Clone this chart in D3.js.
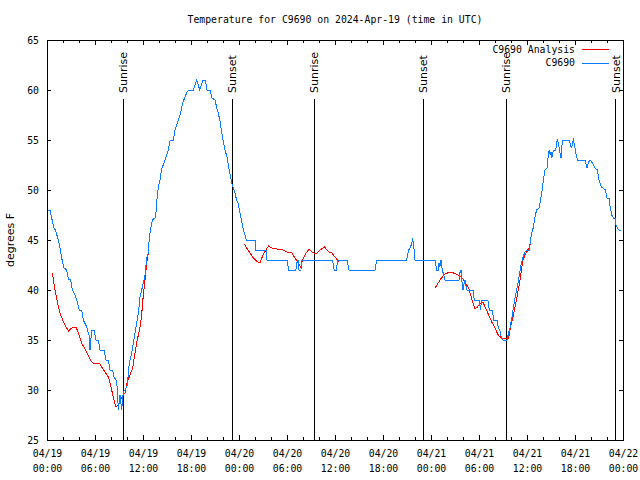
<!DOCTYPE html>
<html>
<head>
<meta charset="utf-8">
<script src="https://cdn.jsdelivr.net/npm/d3@7"></script>
<style>
html,body{margin:0;padding:0;background:#fff;}
svg{display:block;}
</style>
</head>
<body>
<script>
// ---- data (hours since 2024-04-19 00:00 UTC) ----
const obsHours = [0.17,0.375,0.58,0.875,1.05,1.42,1.625,1.83,2.125,2.46,2.67,2.96,3.17,3.5,3.71,4.04,4.33,4.54,4.96,5.25,5.375,5.58,5.875,6.125,6.42,6.625,7.125,7.375,7.67,7.875,8.21,8.375,8.625,8.79,8.92,9.125,9.33,9.54,9.75,10.04,10.29,10.58,10.79,11.0,11.21,11.42,11.625,11.83,12.04,12.25,12.46,12.67,12.79,13.0,13.17,13.5,13.625,13.79,13.92,14.125,14.3,14.75,15.16,15.4,15.8,16.0,16.4,16.7,16.8,17.0,17.5,17.7,18.3,18.5,18.7,18.9,19.1,19.3,19.5,19.75,19.9,20.0,20.4,20.6,21.0,21.2,21.4,21.6,21.8,22.0,22.25,22.5,22.7,22.9,23.1,23.3,23.5,23.7,23.9,24.1,24.3,24.5,24.75,24.9,26.0,26.1,27.4,27.5,30.0,30.2,31.1,31.3,31.4,31.5,31.75,31.8,35.7,35.9,36.2,36.3,37.5,37.75,41.0,41.2,44.96,45.2,45.4,45.6,45.7,45.9,46.0,48.5,48.7,48.9,49.0,49.1,49.25,49.4,49.6,49.75,51.5,51.6,51.75,51.8,51.9,52.0,52.1,52.25,52.4,52.5,53.3,53.4,54.0,54.2,54.3,55.1,55.3,55.7,55.8,56.3,56.4,56.6,56.8,57.0,57.5,57.7,57.9,58.1,58.3,58.5,58.7,58.9,59.1,59.3,59.5,59.75,59.96,60.3,60.4,60.6,60.8,61.0,61.2,61.5,61.7,61.9,62.0,62.25,62.5,62.7,62.8,62.9,63.0,63.1,63.3,63.6,63.7,63.8,64.0,64.1,64.25,64.4,64.5,65.3,65.5,65.6,65.7,65.8,66.0,66.1,66.3,67.25,67.4,67.5,67.7,67.9,68.1,68.3,68.5,68.8,69.0,69.3,69.5,69.8,70.0,70.25,70.4,70.6,70.8,71.0,71.1,71.3,71.5,71.75];
const obsTemps = [48,48,47.2,46.2,46,45,44.2,43.2,42.2,42,41.1,41,40,39.5,39,38,38,37,36.3,35.5,34,36,36,35,35,34,34,33,33,32,32,31.3,31,30.2,28,29.5,28,29.8,30,30.5,32.7,33.7,34.7,35.7,36.7,37.7,39.3,40,40.7,41.5,43.2,43.7,45.3,46.3,47,47.2,47.8,49.5,50.3,51,52,53,54,55,55,56,57,57.7,58.1,58.8,59.8,60,60,60.5,61,60.5,60,60.5,61,61,60.5,60,60,59.2,59,58.3,57.7,57,56,55,54,53.3,52.3,51.5,50.7,50.2,49.7,49,48.7,47.8,47,46.2,45.5,45,45,44,44,43,43,42,42,43,43,42,42,43,43,42,42,43,43,42,42,43,43,44,44.2,44.7,45.2,44,43,43,42,42,42.7,42.3,43,42,41.5,41,41,41.7,42,41.3,40.7,40,40.5,41,40.3,40,40,39,39,38,39,39,38,38,37,37,36.2,36,35.2,35,35,35.7,36.3,37.2,38.2,39.2,40,40.8,41.8,42.7,43.3,43.8,44,44,44.8,45.7,46.3,47.3,48,48.2,49,50,50.7,52,52.2,53.7,54,53.5,53.8,53.2,54,54,54.7,55.1,54.3,53.8,53.2,54.7,55,55,54.3,54.2,54.8,55,54.2,53.7,53,53,52.5,52.2,52.8,53,52.8,52.5,52.2,52,51,50.3,50.2,50,49.2,49.2,48.3,47.5,47.2,47.2,46.5,46.2,46,46];

// analysis series; null marks a gap
const anaHours = [0.67,1.0,1.42,1.71,2.125,2.67,3.08,3.625,3.92,4.33,4.96,5.58,5.79,6.625,6.83,7.25,7.67,7.875,8.08,8.375,8.625,8.92,9.125,9.46,9.75,10.04,10.375,10.71,11.0,11.21,11.625,11.83,12.04,12.29,12.46,12.67,
  null,
  24.66,24.96,25.375,25.8,26.2,26.6,27.0,27.5,27.7,28.1,28.7,29.5,30.0,30.6,31.0,31.4,31.7,32.0,32.4,32.75,33.1,33.6,34.1,34.7,35.2,35.6,36.0,36.3,36.5,
  null,
  48.5,48.9,49.3,49.75,50.4,50.8,51.4,51.8,52.25,52.7,52.96,53.2,53.5,53.8,54.1,54.5,54.75,55.1,55.6,56.0,56.4,56.8,57.25,57.7,57.9,58.3,58.7,59.1,59.3,59.5,59.75,59.96,60.3,60.5];
const anaTemps = [41.7,40,38.3,37.5,36.7,35.9,36.2,36.3,35.7,34.7,33.8,32.8,32.7,32.6,32.3,31.8,31.3,30.7,30,29,28.3,28.5,29,29.4,29.7,30.8,31.5,32.2,33.7,34.7,36.3,37.5,39.5,41.3,42.7,43.7,
  null,
  44.6,44.2,43.7,43.2,42.9,42.7,43.5,44.2,44.4,44.2,44.1,44,43.8,43.7,43.2,42.7,42.3,43.1,43.7,44.1,43.8,43.6,44,44.3,43.8,43.7,43.3,43,42.8,
  null,
  40.2,40.7,41.2,41.6,41.8,41.7,41.5,41.3,40.8,40.2,39.5,38.8,38.1,38.3,38.6,38.8,38.3,37.7,36.8,36.2,35.5,35.2,35.1,35.2,36.1,37.5,39.1,40.8,42,43,43.5,43.8,44.3,44.8];

const sunHours = [9.54, 23.16, 33.41, 47.05, 57.38, 71.09];
const sunNames = ["Sunrise","Sunset","Sunrise","Sunset","Sunrise","Sunset"];

const yTicks = [25,30,35,40,45,50,55,60,65];
const majorTickHours = [0,6,12,18,24,30,36,42,48,54,60,66,72];
const minorTickHours = d3.range(0, 73, 2);
const seriesNames = ["C9690 Analysis","C9690"];
const seriesColors = ["#ff0000","#0a7cff"];
const titleText = "Temperature for C9690 on 2024-Apr-19 (time in UTC)";
const yLabel = "degrees F";

// ---- chart ----
const base = Date.UTC(2024,3,19);
const toDate = h => new Date(base + h*3600e3);
const W=640, H=480, L=47, R=623, T=40, B=440;
const mono = "'DejaVu Sans Mono', 'Liberation Mono', monospace";
const sans = "'DejaVu Sans', 'Liberation Sans', Arial, sans-serif";

const x = d3.scaleUtc().domain([toDate(0), toDate(72)]).range([L, R]);
const y = d3.scaleLinear().domain([25,65]).range([B, T]);

const svg = d3.select("body").append("svg").attr("width",W).attr("height",H);
svg.append("rect").attr("width",W).attr("height",H).attr("fill","#fff");

// title
svg.append("text").attr("x",(L+R)/2).attr("y",23).attr("text-anchor","middle")
  .attr("font-family",mono).attr("font-size",9.8).attr("fill","#000").text(titleText);

// y label
svg.append("text").attr("transform",`translate(14,${(T+B)/2}) rotate(-90)`)
  .attr("text-anchor","middle").attr("font-family",sans).attr("font-size",11).attr("fill","#000").text(yLabel);

function styleAxis(g){
  g.select(".domain").remove();
  g.selectAll("line").attr("stroke","#000").attr("shape-rendering","crispEdges");
}
// bottom minor + major
svg.append("g").attr("transform",`translate(0,${B})`)
  .call(d3.axisBottom(x).tickValues(minorTickHours.map(toDate)).tickSizeInner(-3).tickSizeOuter(0).tickFormat(""))
  .call(styleAxis);
const xb = svg.append("g").attr("transform",`translate(0,${B})`)
  .call(d3.axisBottom(x).tickValues(majorTickHours.map(toDate)).tickSizeInner(-5).tickSizeOuter(0).tickPadding(9))
  .call(styleAxis);
xb.selectAll("text").each(function(d){
  const t = d3.select(this);
  t.text(null).attr("y",17).attr("dy",null).attr("font-family",mono).attr("font-size",9.8).attr("fill","#000");
  t.append("tspan").attr("x",0).text(d3.utcFormat("%m/%d")(d));
  t.append("tspan").attr("x",0).attr("dy",15).text(d3.utcFormat("%H:%M")(d));
});
// top ticks
svg.append("g").attr("transform",`translate(0,${T})`)
  .call(d3.axisTop(x).tickValues(minorTickHours.map(toDate)).tickSizeInner(-3).tickSizeOuter(0).tickFormat(""))
  .call(styleAxis);
svg.append("g").attr("transform",`translate(0,${T})`)
  .call(d3.axisTop(x).tickValues(majorTickHours.map(toDate)).tickSizeInner(-5).tickSizeOuter(0).tickFormat(""))
  .call(styleAxis);
// left / right
const yl = svg.append("g").attr("transform",`translate(${L},0)`)
  .call(d3.axisLeft(y).tickValues(yTicks).tickSizeInner(-4).tickSizeOuter(0).tickPadding(8))
  .call(styleAxis);
yl.selectAll("text").attr("font-family",mono).attr("font-size",9.8).attr("fill","#000");
svg.append("g").attr("transform",`translate(${R},0)`)
  .call(d3.axisRight(y).tickValues(yTicks).tickSizeInner(-4).tickSizeOuter(0).tickFormat(""))
  .call(styleAxis);

// frame
svg.append("rect").attr("x",L).attr("y",T).attr("width",R-L).attr("height",B-T)
  .attr("fill","none").attr("stroke","#000").attr("shape-rendering","crispEdges");

// sunrise/sunset lines
const sunG = svg.append("g");
sunHours.forEach((h,i)=>{
  const px = x(toDate(h));
  sunG.append("line").attr("x1",px).attr("x2",px).attr("y1",B).attr("y2",99)
    .attr("stroke","#000").attr("shape-rendering","crispEdges");
  sunG.append("text").attr("transform",`translate(${px+4},93) rotate(-90)`)
    .attr("font-family",sans).attr("font-size",11).attr("fill","#000").text(sunNames[i]);
});

// data lines
const line = d3.line().defined(d=>d[1]!=null).x(d=>x(toDate(d[0]))).y(d=>y(d[1]));
const anaData = anaHours.map((h,i)=>[h, h==null?null:anaTemps[i]]);
const obsData = obsHours.map((h,i)=>[h, obsTemps[i]]);
svg.append("path").datum(anaData).attr("d",line).attr("fill","none")
  .attr("stroke",seriesColors[0]).attr("stroke-width",1).attr("shape-rendering","crispEdges");
svg.append("path").datum(obsData).attr("d",line).attr("fill","none")
  .attr("stroke",seriesColors[1]).attr("stroke-width",1).attr("shape-rendering","crispEdges");

// legend
seriesNames.forEach((n,i)=>{
  const ly = 49 + i*13.5;
  svg.append("text").attr("x",575).attr("y",ly+3.5).attr("text-anchor","end")
    .attr("font-family",mono).attr("font-size",9.8).attr("fill","#000").text(n);
  svg.append("rect").attr("x",582).attr("y",Math.round(ly)).attr("width",27).attr("height",1)
    .attr("fill",seriesColors[i]).attr("shape-rendering","crispEdges");
});
</script>
</body>
</html>
